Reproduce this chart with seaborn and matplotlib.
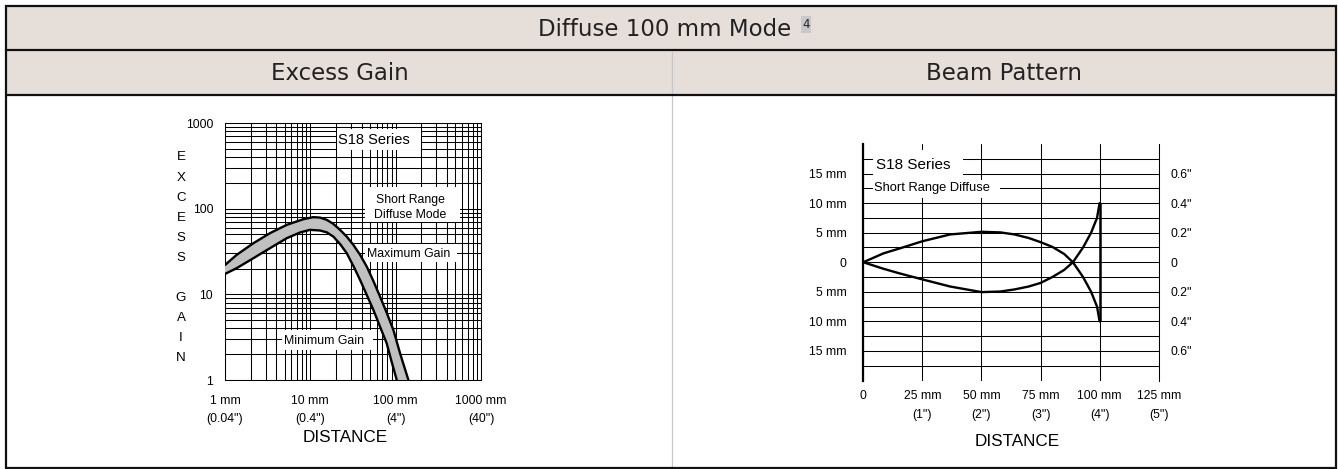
import numpy as np
import matplotlib
matplotlib.use("Agg")
import matplotlib.pyplot as plt
import seaborn as sns
from matplotlib import font_manager
from matplotlib.patches import Rectangle
from matplotlib.lines import Line2D
from matplotlib.ticker import LogLocator, NullFormatter

# Excess gain curves (distance in mm, excess gain)
max_gain_dist = [1.0, 1.37, 2.15, 3.37, 5.29, 8.27, 10.8, 13.0, 15.6, 18.6, 22.3,
                 26.7, 31.9, 38.3, 45.8, 54.8, 65.6, 78.5, 94.0, 112.6, 141.0]
max_gain = [22.0, 28.9, 39.5, 51.8, 64.7, 75.3, 79.6, 78.7, 74.0, 66.4, 56.6,
            47.2, 37.8, 28.9, 21.1, 14.3, 9.4, 6.1, 3.84, 2.05, 1.0]
min_gain_dist = [1.0, 1.37, 2.15, 3.37, 5.29, 7.56, 9.9, 13.0, 15.6, 18.6, 22.3,
                 26.7, 31.9, 38.3, 45.8, 54.8, 65.6, 78.5, 89.6, 103.0]
min_gain = [17.3, 20.2, 26.4, 34.6, 45.2, 52.7, 56.6, 55.6, 52.9, 47.2, 38.7,
            30.2, 21.5, 14.7, 9.85, 6.58, 4.19, 2.68, 1.64, 1.0]

gain_ticks = [1, 10, 100, 1000]
gain_xlabels = ['1 mm\n(0.04")', '10 mm\n(0.4")', '100 mm\n(4")', '1000 mm\n(40")']
gain_ylabels = ['1', '10', '100', '1000']

# Beam pattern (distance in mm, beam width in mm)
beam_dist = [0, 8.5, 15.5, 25, 36.7, 50, 58, 64, 70, 75, 80, 85, 88.7, 93, 96.4, 98.9, 100]
beam_upper = [0, 1.5, 2.35, 3.55, 4.7, 5.15, 5.05, 4.7, 4.1, 3.4, 2.6, 1.4, 0, -2.5, -5.0, -7.5, -10]
beam_lower = [0, -1.1, -1.9, -2.9, -4.1, -5.05, -4.95, -4.6, -4.1, -3.5, -2.5, -1.3, 0, 2.5, 5.0, 7.5, 10]

beam_xticks = [0, 25, 50, 75, 100, 125]
beam_xlabels = ['0', '25 mm\n(1")', '50 mm\n(2")', '75 mm\n(3")', '100 mm\n(4")', '125 mm\n(5")']
beam_yticks = [-15, -10, -5, 0, 5, 10, 15]
beam_mm_labels = ['15 mm', '10 mm', '5 mm', '0', '5 mm', '10 mm', '15 mm']
beam_in_labels = ['0.6"', '0.4"', '0.2"', '0', '0.2"', '0.4"', '0.6"']
beam_minor = [-17.5, -12.5, -7.5, -2.5, 2.5, 7.5, 12.5, 17.5]

sns.set_theme(style="white", rc={'text.color': 'black'})
names = {f.name for f in font_manager.fontManager.ttflist}
if 'Liberation Sans Narrow' in names:
    narrow, k = 'Liberation Sans Narrow', 1.0
else:
    narrow, k = 'Liberation Sans', 0.88
plt.rcParams['font.family'] = [narrow, 'DejaVu Sans']

W, H = 1338, 469
fig = plt.figure(figsize=(W / 100, H / 100), dpi=100)


def fx(px):
    return px / W


def fy(py):
    return 1 - py / H


def white_box(ax, x0, x1, y0, y1):
    pos = ax.get_position()
    ax0 = (fx(x0) - pos.x0) / pos.width
    ax1_ = (fx(x1) - pos.x0) / pos.width
    ay0 = (fy(y1) - pos.y0) / pos.height
    ay1 = (fy(y0) - pos.y0) / pos.height
    ax.add_patch(Rectangle((ax0, ay0), ax1_ - ax0, ay1 - ay0, transform=ax.transAxes,
                           facecolor='white', edgecolor='none', zorder=2))


# ---- table frame ----
hdr = '#e6ded8'
fig.patches.append(Rectangle((fx(7), fy(95)), fx(1335) - fx(7), fy(7) - fy(95),
                             transform=fig.transFigure, facecolor=hdr, edgecolor='none', zorder=0))
fig.patches.append(Rectangle((fx(6.5), fy(467.5)), fx(1335.5) - fx(6.5), fy(6.5) - fy(467.5),
                             transform=fig.transFigure, facecolor='none', edgecolor='#111111',
                             lw=1.6, zorder=3))
for yy in [50.5, 95]:
    fig.lines.append(Line2D([fx(6.5), fx(1335.5)], [fy(yy), fy(yy)], transform=fig.transFigure,
                            color='#111111', lw=1.6, zorder=3))
fig.lines.append(Line2D([fx(671.5), fx(671.5)], [fy(51.5), fy(466.5)], transform=fig.transFigure,
                        color='#c8c8c8', lw=0.9, zorder=2))

hfont = dict(family='DejaVu Sans', fontsize=16.5, color='#222222', va='baseline', ha='center')
fig.text(fx(665), fy(36), 'Diffuse 100 mm Mode', **hfont)
fig.text(fx(806), fy(28), '4', family='DejaVu Sans', fontsize=8.5, color='#222222',
         ha='center', va='baseline',
         bbox=dict(facecolor='#c8c8c8', edgecolor='none', pad=1.2))
fig.text(fx(339.5), fy(80), 'Excess Gain', **hfont)
fig.text(fx(1003.5), fy(80), 'Beam Pattern', **hfont)

# ---- excess gain chart ----
ax1 = fig.add_axes([fx(225), fy(380), fx(481) - fx(225), fy(123) - fy(380)])
ax1.set_xscale('log')
ax1.set_yscale('log')
ax1.set_xlim(1, 1000)
ax1.set_ylim(1, 1000)
ax1.set_axisbelow(True)
for a in (ax1.xaxis, ax1.yaxis):
    a.set_major_locator(LogLocator(base=10, numticks=10))
    a.set_minor_locator(LogLocator(base=10, subs=np.arange(2, 10), numticks=20))
    a.set_minor_formatter(NullFormatter())
ax1.grid(which='both', color='black', lw=0.75)
for s in ax1.spines.values():
    s.set_color('black')
    s.set_linewidth(0.75)

ax1.fill(np.r_[max_gain_dist, min_gain_dist[::-1]], np.r_[max_gain, min_gain[::-1]],
         color='#c0c0c0', lw=0, zorder=3)
sns.lineplot(x=max_gain_dist, y=max_gain, ax=ax1, color='black', lw=1.7, zorder=4, sort=False)
sns.lineplot(x=min_gain_dist, y=min_gain, ax=ax1, color='black', lw=1.7, zorder=4, sort=False)
ax1.set_xlim(1, 1000)
ax1.set_ylim(1, 1000)

ax1.set_xticks(gain_ticks, gain_xlabels, linespacing=1.7)
ax1.set_yticks(gain_ticks, gain_ylabels)
ax1.tick_params(which='major', length=5, width=0.75, color='black', labelsize=10 * k,
                labelcolor='black', direction='out')
ax1.tick_params(axis='x', pad=5.5)
ax1.tick_params(axis='y', pad=3.5)
ax1.tick_params(which='minor', length=0)
ax1.set_xlabel('')
ax1.set_ylabel('')

white_box(ax1, 336.7, 420.7, 129.3, 150)
white_box(ax1, 365, 460, 186.7, 221.7)
white_box(ax1, 365, 456.7, 244, 261.7)
white_box(ax1, 281.7, 373.3, 330, 350)

fig.text(fx(373.5), fy(144.3), 'S18 Series', fontsize=12 * k, ha='center', va='baseline')
fig.text(fx(410), fy(202.7), 'Short Range', fontsize=10 * k, ha='center', va='baseline')
fig.text(fx(410), fy(218.3), 'Diffuse Mode', fontsize=10 * k, ha='center', va='baseline')
fig.text(fx(408.3), fy(256.7), 'Maximum Gain', fontsize=10 * k, ha='center', va='baseline')
fig.text(fx(324), fy(344), 'Minimum Gain', fontsize=10 * k, ha='center', va='baseline')
fig.text(fx(181), fy(151.5), 'E\nX\nC\nE\nS\nS\n\nG\nA\nI\nN', fontsize=11 * k,
         ha='center', va='top', linespacing=1.67 / k)
fig.text(fx(345), fy(441.7), 'DISTANCE', fontsize=14 * k, ha='center', va='baseline')

# ---- beam pattern chart ----
ax2 = fig.add_axes([fx(863.3), fy(380.5), fx(1158.7) - fx(863.3), fy(144) - fy(380.5)])
ax2.set_axisbelow(True)
ax2.vlines(beam_dist[-1], beam_upper[-1], beam_lower[-1], color='black', lw=1.8, zorder=4)
sns.lineplot(x=beam_dist, y=beam_upper, ax=ax2, color='black', lw=1.7, zorder=4, sort=False)
sns.lineplot(x=beam_dist, y=beam_lower, ax=ax2, color='black', lw=1.7, zorder=4, sort=False)
ax2.set_xlim(0, 125)
ax2.set_ylim(-20, 20)
ax2.set_xticks(beam_xticks, beam_xlabels, linespacing=1.7)
ax2.set_yticks(beam_yticks, beam_mm_labels)
ax2.set_yticks(beam_minor, minor=True)
ax2.grid(which='both', axis='y', color='black', lw=0.75)
ax2.grid(which='major', axis='x', color='black', lw=0.75)
for name, s in ax2.spines.items():
    s.set_visible(name in ('left', 'right'))
    s.set_color('black')
ax2.spines['left'].set_linewidth(1.6)
ax2.spines['right'].set_linewidth(0.75)
ax2.tick_params(which='both', length=0, labelsize=10 * k, labelcolor='black')
ax2.tick_params(axis='x', pad=7)
ax2.tick_params(axis='y', pad=12)
ax2.set_xlabel('')
ax2.set_ylabel('')

ax3 = ax2.twinx()
ax3.set_ylim(-20, 20)
ax3.set_yticks(beam_yticks, beam_in_labels)
ax3.tick_params(length=0, labelsize=10 * k, labelcolor='black', pad=8.8)
for s in ax3.spines.values():
    s.set_visible(False)

white_box(ax2, 872.7, 963.3, 150, 180)
white_box(ax2, 872.7, 1000, 180, 198.3)
fig.text(fx(913.7), fy(168.7), 'S18 Series', fontsize=12.5 * k, ha='center', va='baseline')
fig.text(fx(931.7), fy(190.7), 'Short Range Diffuse', fontsize=10.5 * k, ha='center', va='baseline')
fig.text(fx(1016.7), fy(446), 'DISTANCE', fontsize=14 * k, ha='center', va='baseline')

fig.savefig('out.png', dpi=100)
